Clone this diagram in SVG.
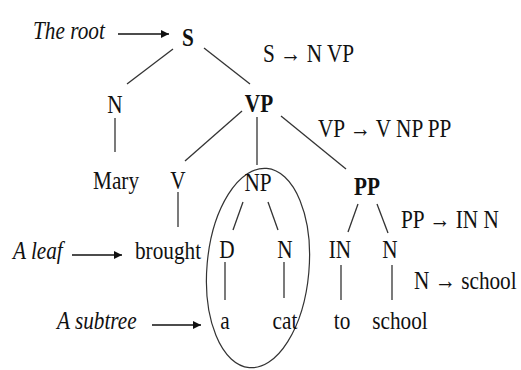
<svg xmlns="http://www.w3.org/2000/svg" width="521" height="370" viewBox="0 0 521 370">
  <style>
    .t { font-size: 25px; fill: #111; }
    .n { text-anchor: middle; }
    .b { font-weight: bold; }
    .i { font-style: italic; }
    .edge { stroke: #333; stroke-width: 1.3; fill: none; }
    .ptr { stroke: #111; stroke-width: 1.6; fill: none; }
  </style>
  <defs>
    <marker id="head" viewBox="0 0 10 10" refX="10" refY="5" markerWidth="10" markerHeight="8" markerUnits="userSpaceOnUse" orient="auto">
      <path d="M0,0 L10,5 L0,10 Z" fill="#111"/>
    </marker>
  </defs>

  <!-- tree edges -->
  <g id="edges">
    <line class="edge" x1="173" y1="49" x2="127" y2="84"/>
    <line class="edge" x1="204" y1="48" x2="250" y2="84"/>
    <line class="edge" x1="115" y1="118" x2="115" y2="152"/>
    <line class="edge" x1="242" y1="111" x2="185" y2="161"/>
    <line class="edge" x1="257" y1="117" x2="257" y2="165"/>
    <line class="edge" x1="281" y1="116" x2="346" y2="169"/>
    <line class="edge" x1="178" y1="192" x2="178" y2="227"/>
    <line class="edge" x1="243" y1="202" x2="233" y2="230"/>
    <line class="edge" x1="268" y1="202" x2="278" y2="230"/>
    <line class="edge" x1="358" y1="204" x2="348" y2="232"/>
    <line class="edge" x1="377" y1="204" x2="388" y2="233"/>
    <line class="edge" x1="225" y1="262" x2="225" y2="300"/>
    <line class="edge" x1="284" y1="262" x2="284" y2="298"/>
    <line class="edge" x1="341" y1="265" x2="341" y2="300"/>
    <line class="edge" x1="392" y1="265" x2="392" y2="300"/>
  </g>

  <!-- annotation arrows -->
  <g id="pointers">
    <line class="ptr" x1="118" y1="34" x2="169" y2="34" marker-end="url(#head)"/>
    <line class="ptr" x1="72" y1="255" x2="122" y2="255" marker-end="url(#head)"/>
    <line class="ptr" x1="152" y1="325" x2="201" y2="325" marker-end="url(#head)"/>
  </g>

  <!-- subtree outline -->
  <ellipse id="subtree" cx="258" cy="268" rx="51" ry="100" transform="rotate(5 258 268)" fill="none" stroke="#333" stroke-width="1.2"/>

  <g font-family="Liberation Serif, Times New Roman, Times, DejaVu Serif, serif">
    <!-- nodes: narrow serif lettering, drawn with a horizontal squeeze -->
    <g id="node-S"><text class="t n b" transform="translate(188 46) scale(0.85 1)">S</text></g>
    <g id="node-N1"><text class="t n" transform="translate(115 113) scale(0.85 1)">N</text></g>
    <g id="node-VP"><text class="t n b" transform="translate(259 112) scale(0.85 1)">VP</text></g>
    <g id="node-Mary"><text class="t n" transform="translate(116 189) scale(0.85 1)">Mary</text></g>
    <g id="node-V"><text class="t n" transform="translate(178 189) scale(0.85 1)">V</text></g>
    <g id="node-NP"><text class="t n" transform="translate(258 191) scale(0.85 1)">NP</text></g>
    <g id="node-PP"><text class="t n b" transform="translate(367 195) scale(0.85 1)">PP</text></g>
    <g id="node-brought"><text class="t n" transform="translate(168 259) scale(0.85 1)">brought</text></g>
    <g id="node-D"><text class="t n" transform="translate(227 258) scale(0.85 1)">D</text></g>
    <g id="node-N2"><text class="t n" transform="translate(285 258) scale(0.85 1)">N</text></g>
    <g id="node-IN"><text class="t n" transform="translate(340 258) scale(0.85 1)">IN</text></g>
    <g id="node-N3"><text class="t n" transform="translate(390 258) scale(0.85 1)">N</text></g>
    <g id="node-a"><text class="t n" transform="translate(225 329) scale(0.85 1)">a</text></g>
    <g id="node-cat"><text class="t n" transform="translate(285 329) scale(0.85 1)">cat</text></g>
    <g id="node-to"><text class="t n" transform="translate(342 329) scale(0.85 1)">to</text></g>
    <g id="node-school"><text class="t n" transform="translate(400 329) scale(0.85 1)">school</text></g>

    <!-- rules -->
    <g id="rules">
      <text class="t" transform="translate(263 62) scale(0.85 1)">S → N VP</text>
      <text class="t" transform="translate(318 137) scale(0.85 1)">VP → V NP PP</text>
      <text class="t" transform="translate(401 228) scale(0.85 1)">PP → IN N</text>
      <text class="t" transform="translate(414 289) scale(0.85 1)">N → school</text>
    </g>

    <!-- labels -->
    <g id="labels">
      <text class="t i" transform="translate(33 39) scale(0.85 1)">The root</text>
      <text class="t i" transform="translate(13 259) scale(0.85 1)">A leaf</text>
      <text class="t i" transform="translate(57 329) scale(0.85 1)">A subtree</text>
    </g>
  </g>
</svg>
